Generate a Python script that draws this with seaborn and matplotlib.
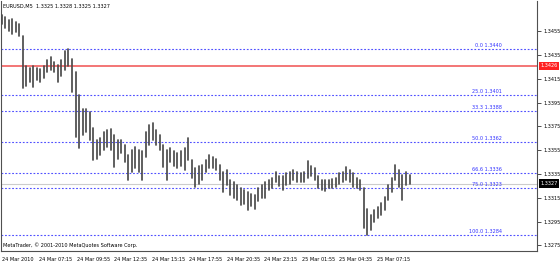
import matplotlib
matplotlib.use("Agg")
import matplotlib.pyplot as plt
import matplotlib.transforms as mtransforms
import numpy as np
import pandas as pd
import seaborn as sns

# ---- data (15-minute aggregated highs/lows) ----
highs = [1.3469, 1.3467, 1.3464, 1.3465, 1.3463, 1.3461, 1.3451, 1.3426, 1.3424, 1.3426,
         1.3424, 1.3423, 1.3426, 1.3431, 1.3433, 1.3429, 1.3427, 1.3431, 1.3438, 1.3440,
         1.3432, 1.3421, 1.3401, 1.3390, 1.3390, 1.3387, 1.3374, 1.3364, 1.3365, 1.3370,
         1.3372, 1.3373, 1.3368, 1.3364, 1.3364, 1.3359, 1.3351, 1.3355, 1.3358, 1.3355,
         1.3354, 1.3370, 1.3376, 1.3378, 1.3372, 1.3368, 1.3359, 1.3355, 1.3357, 1.3354,
         1.3353, 1.3354, 1.3357, 1.3365, 1.3347, 1.3340, 1.3342, 1.3343, 1.3347, 1.3351,
         1.3349, 1.3348, 1.3343, 1.3337, 1.3338, 1.3330, 1.3328, 1.3326, 1.3323, 1.3322,
         1.3320, 1.3318, 1.3317, 1.3323, 1.3326, 1.3328, 1.3330, 1.3332, 1.3337, 1.3333,
         1.3333, 1.3336, 1.3337, 1.3338, 1.3337, 1.3336, 1.3337, 1.3346, 1.3342, 1.3340,
         1.3333, 1.3330, 1.3330, 1.3330, 1.3331, 1.3332, 1.3336, 1.3337, 1.3341, 1.3338,
         1.3336, 1.3332, 1.3330, 1.3323, 1.3306, 1.3301, 1.3305, 1.3307, 1.3311, 1.3316,
         1.3326, 1.3332, 1.3343, 1.3338, 1.3334, 1.3337, 1.3334]
lows = [1.3461, 1.3458, 1.3455, 1.3453, 1.3454, 1.3451, 1.3407, 1.3409, 1.3412, 1.3408,
        1.3414, 1.3412, 1.3416, 1.3421, 1.3422, 1.3421, 1.3412, 1.3417, 1.3422, 1.3426,
        1.3404, 1.3366, 1.3357, 1.3368, 1.3370, 1.3364, 1.3347, 1.3348, 1.3351, 1.3355,
        1.3358, 1.3355, 1.3341, 1.3348, 1.3353, 1.3345, 1.3330, 1.3337, 1.3340, 1.3337,
        1.3330, 1.3349, 1.3359, 1.3364, 1.3359, 1.3355, 1.3341, 1.3330, 1.3345, 1.3342,
        1.3340, 1.3342, 1.3338, 1.3347, 1.3332, 1.3324, 1.3327, 1.3330, 1.3337, 1.3340,
        1.3340, 1.3338, 1.3330, 1.3320, 1.3326, 1.3317, 1.3315, 1.3313, 1.3309, 1.3310,
        1.3305, 1.3308, 1.3306, 1.3312, 1.3315, 1.3315, 1.3322, 1.3323, 1.3328, 1.3325,
        1.3322, 1.3326, 1.3327, 1.3330, 1.3328, 1.3328, 1.3328, 1.3332, 1.3333, 1.3330,
        1.3323, 1.3322, 1.3321, 1.3323, 1.3323, 1.3324, 1.3327, 1.3328, 1.3330, 1.3328,
        1.3324, 1.3323, 1.3322, 1.3290, 1.3284, 1.3288, 1.3295, 1.3298, 1.3301, 1.3305,
        1.3313, 1.3320, 1.3330, 1.3324, 1.3313, 1.3326, 1.3327]
bar_minutes = 15

fib_pcts = ["0.0", "25.0", "33.3", "50.0", "66.6", "75.0", "100.0"]
fib_levels = [1.3440, 1.3401, 1.3388, 1.3362, 1.3336, 1.3323, 1.3284]

ytick_vals = [1.3455, 1.3435, 1.3415, 1.3395, 1.3375, 1.3355, 1.3335, 1.3315, 1.3295, 1.3275]
xtick_minutes = [0, 160, 320, 480, 640, 800, 960, 1120, 1280, 1440, 1600]
xtick_labels = ["24 Mar 2010", "24 Mar 07:15", "24 Mar 09:55", "24 Mar 12:35",
                "24 Mar 15:15", "24 Mar 17:55", "24 Mar 20:35", "24 Mar 23:15",
                "25 Mar 01:55", "25 Mar 04:35", "25 Mar 07:15"]
red_level = 1.3426
last_price = 1.3327
title_text = "EURUSD,M5  1.3325 1.3328 1.3325 1.3327"
copyright_text = "MetaTrader, \u00a9 2001-2010 MetaQuotes Software Corp."

# ---- styling ----
sns.set_style("white")
plt.rcParams["font.family"] = ["DejaVu Sans"]
plt.rcParams["font.stretch"] = "condensed"
fs = 4.0

fig = plt.figure(figsize=(5.6, 2.61), dpi=100)
ax = fig.add_axes([1 / 560, 10 / 261, 536 / 560, 250 / 261])

# long-form table: one vertical segment per bar
n = len(highs)
t = np.arange(n) * bar_minutes
df = pd.DataFrame({
    "t": np.concatenate([t, t]),
    "price": np.concatenate([highs, lows]),
    "bar": np.concatenate([np.arange(n), np.arange(n)]),
})

# horizontal levels (behind bars)
ax.axhline(last_price, color="#cccccc", lw=0.8, zorder=1)
ax.axhline(red_level, color="#f26a6a", lw=1.3, zorder=1)
for lv in fib_levels:
    ax.axhline(lv, color="#5050ff", lw=0.8, ls=(0, (1.6, 1.6)), zorder=1)

sns.lineplot(data=df, x="t", y="price", units="bar", estimator=None,
             color="#4c4c4c", lw=1.25, ax=ax, legend=False, zorder=3)

ax.set_xlim(-3, 2284)
ax.set_ylim(1.327036, 1.348036)
ax.set_xlabel("")
ax.set_ylabel("")

# fib labels
for p, lv in zip(fib_pcts, fib_levels):
    ax.annotate(f"{p} {lv:.4f}", xy=(2134, lv), xytext=(0, 0.8), textcoords="offset points",
                ha="right", va="bottom", fontsize=fs, color="#3030ff", zorder=4)

# axes / ticks
ax.yaxis.tick_right()
ax.set_yticks(ytick_vals)
ax.set_yticklabels([f"{v:.4f}" for v in ytick_vals])
ax.set_xticks(xtick_minutes)
ax.set_xticklabels(xtick_labels)
ax.tick_params(axis="both", direction="out", length=3, width=0.6, pad=1.5,
               labelsize=fs, colors="#303030", labelcolor="black")
for lab in ax.get_xticklabels():
    lab.set_horizontalalignment("left")

for side in ["left", "right", "bottom"]:
    ax.spines[side].set_visible(True)
    ax.spines[side].set_color("#505050")
    ax.spines[side].set_linewidth(0.8)
ax.spines["top"].set_visible(False)

# price boxes on right axis
trans = mtransforms.blended_transform_factory(ax.transAxes, ax.transData)
ax.text(1.006, red_level, f"{red_level:.4f}", transform=trans, ha="left", va="center",
        fontsize=fs, color="white", zorder=5, clip_on=False,
        bbox=dict(boxstyle="square,pad=0.3", fc="#ff2020", ec="none"))
ax.text(1.006, last_price, f"{last_price:.4f}", transform=trans, ha="left", va="center",
        fontsize=fs, color="white", zorder=5, clip_on=False,
        bbox=dict(boxstyle="square,pad=0.3", fc="black", ec="none"))

fig.text(3 / 560, 1 - 6 / 261, title_text, fontsize=fs, va="center", ha="left", color="black")
fig.text(3 / 560, 1 - 245 / 261, copyright_text, fontsize=fs, va="center", ha="left", color="black")

fig.savefig("out.png", dpi=100, facecolor="white")
